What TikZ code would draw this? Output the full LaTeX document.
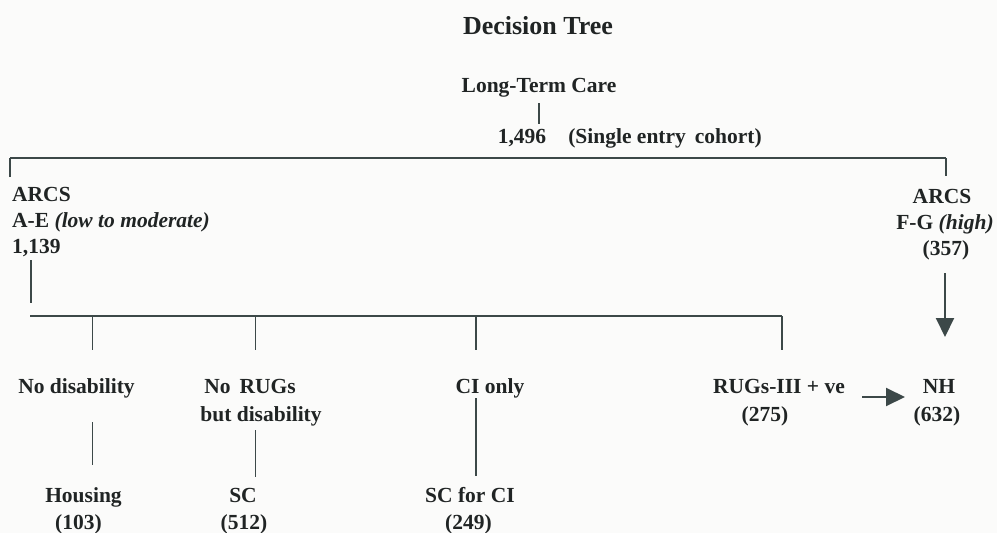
\documentclass[tikz,border=0pt]{standalone}
\usepackage{fontspec}
\setmainfont{Liberation Serif}
\usetikzlibrary{arrows.meta}
\definecolor{ink}{HTML}{202424}
\definecolor{rule}{HTML}{3C4848}
\definecolor{paper}{HTML}{FBFBFA}
\tikzset{
  lbl/.style={anchor=base,inner sep=0pt,text=ink,font=\fontsize{21.5}{24}\selectfont\bfseries},
  ttl/.style={anchor=base,inner sep=0pt,text=ink,font=\fontsize{26}{30}\selectfont\bfseries},
  conn/.style={draw=rule,line width=1.4pt},
  bar/.style={draw=rule,line width=2.4pt},
  arr/.style={draw=rule,line width=2pt,-{Triangle[width=18pt,length=19pt]}}
}
\begin{document}
\begin{tikzpicture}[x=1pt,y=-1pt]
\fill[paper] (0,0) rectangle (997,533);
\useasboundingbox (0,0) rectangle (997,533);

\node[ttl] (title) at (538,34) {Decision Tree};
\node[lbl] (ltc) at (539,92) {Long-Term Care};
\node[lbl] (n1496) at (522,143) {1,496};
\node[lbl] (cohort) at (665,143) {(Single entry\, cohort)};

\node[lbl,anchor=base west] (arcsL) at (12,201) {ARCS};
\node[lbl,anchor=base west] (aeL) at (12,227) {A-E \textit{(low to moderate)}};
\node[lbl,anchor=base west] (n1139) at (12,253) {1,139};

\node[lbl] (arcsR) at (942,203) {ARCS};
\node[lbl] (fgR) at (945,229) {F-G \textit{(high)}};
\node[lbl] (n357) at (946,255) {(357)};

\node[lbl] (nodis) at (76.5,393) {No disability};
\node[lbl] (norugs) at (250,393) {No\, RUGs};
\node[lbl] (butdis) at (261,421) {but disability};
\node[lbl] (cionly) at (490,393) {CI only};
\node[lbl] (rugs) at (779,393) {RUGs-III + ve};
\node[lbl] (n275) at (765,421) {(275)};
\node[lbl] (nh) at (939,393) {NH};
\node[lbl] (n632) at (937,421) {(632)};

\node[lbl] (housing) at (83.5,502) {Housing};
\node[lbl] (n103) at (78.5,529) {(103)};
\node[lbl] (sc) at (243,502) {SC};
\node[lbl] (n512) at (244,529) {(512)};
\node[lbl] (scci) at (470,502) {SC for CI};
\node[lbl] (n249) at (468.5,529) {(249)};

% connector end points
\coordinate (c0a) at (539,103);
\coordinate (c0b) at (539,124);
\coordinate (b1L) at (10,177);
\coordinate (b1R) at (946,176);
\coordinate (b1y) at (0,158);
\coordinate (v1a) at (31,260);
\coordinate (v1b) at (31,303);
\coordinate (b2L) at (30,316);
\coordinate (b2R) at (782,350);
\coordinate (t1) at (92.7,350);
\coordinate (t2) at (255.7,350);
\coordinate (t3) at (476,350);
\coordinate (l1a) at (92.7,422);
\coordinate (l1b) at (92.7,465);
\coordinate (l2a) at (255.7,430);
\coordinate (l2b) at (255.7,477);
\coordinate (l3a) at (476,398);
\coordinate (l3b) at (476,476);
\coordinate (avA) at (945,273);
\coordinate (avB) at (945,337);
\coordinate (ahA) at (862,397);
\coordinate (ahB) at (905,397);

\draw[conn] (c0a) -- (c0b);
\draw[conn] (b1L) -- (b1L |- b1y);
\draw[bar] (b1L |- b1y) -- (b1R |- b1y);
\draw[conn] (b1R |- b1y) -- (b1R);
\draw[conn] (v1a) -- (v1b);
\draw[bar] (b2L) -- (b2L -| b2R);
\draw[conn] (b2L -| b2R) -- (b2R);
\draw[conn] (t1 |- b2L) -- (t1);
\draw[conn] (t2 |- b2L) -- (t2);
\draw[conn] (t3 |- b2L) -- (t3);
\draw[conn] (l1a) -- (l1b);
\draw[conn] (l2a) -- (l2b);
\draw[conn,line width=2pt] (l3a) -- (l3b);
\draw[arr] (avA) -- (avB);
\draw[arr] (ahA) -- (ahB);
\end{tikzpicture}
\end{document}
